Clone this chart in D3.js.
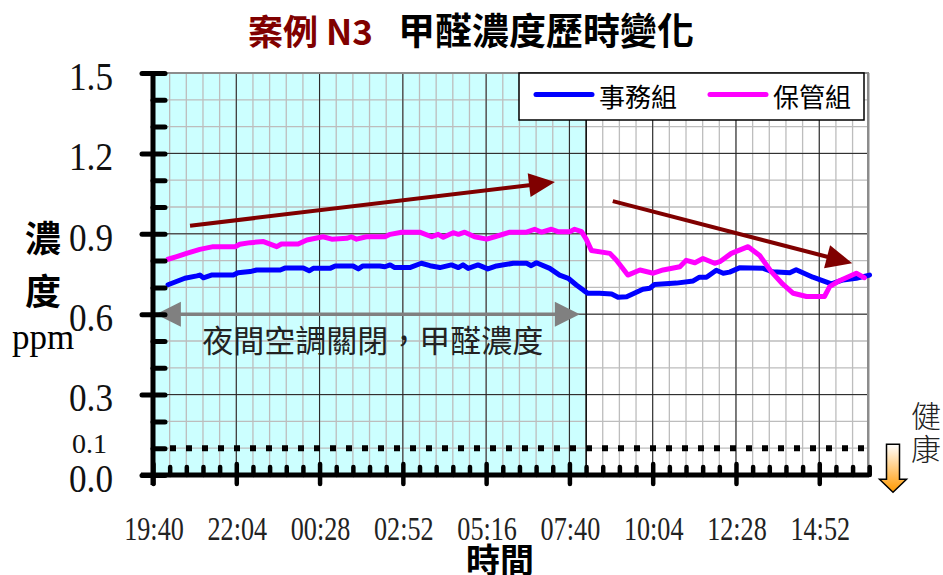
<!DOCTYPE html>
<html>
<head>
<meta charset="utf-8">
<script src="https://cdn.jsdelivr.net/npm/d3@7"></script>
<style>
  html, body { margin: 0; padding: 0; background: #fff; }
  svg { display: block; }
</style>
</head>
<body>
<svg id="chart" width="943" height="575"></svg>
<script>
// ---- Readings: clock time and formaldehyde concentration (ppm) ----
const officeTimes = ["20:06","20:35","20:56","21:01","21:07","21:21","21:59","22:07","22:28","22:39",
  "23:20","23:28","00:00","00:10","00:17","00:46","00:55","01:26","01:35","01:43",
  "02:12","02:21","02:30","02:38","03:04","03:24","03:39","03:56","04:16","04:28",
  "04:36","04:45","05:02","05:19","05:34","06:03","06:26","06:34","06:43","07:06",
  "07:23","07:38","07:52","08:05","08:12","08:32","08:53","09:04","09:19","09:47",
  "09:59","10:07","10:45","11:14","11:25","11:37","11:54","12:06","12:17","12:34",
  "13:15","13:32","14:01","14:12","14:41","15:13","15:33","15:56","16:19"];
const officeValues = [0.710,0.734,0.743,0.746,0.736,0.746,0.746,0.755,0.759,0.765,
  0.765,0.772,0.772,0.762,0.771,0.771,0.780,0.780,0.769,0.780,
  0.780,0.777,0.784,0.774,0.774,0.790,0.781,0.774,0.784,0.774,
  0.784,0.771,0.784,0.769,0.780,0.790,0.790,0.781,0.792,0.771,
  0.746,0.734,0.709,0.688,0.678,0.678,0.675,0.663,0.665,0.693,
  0.697,0.711,0.716,0.724,0.738,0.738,0.764,0.753,0.757,0.773,
  0.771,0.758,0.755,0.766,0.738,0.713,0.728,0.734,0.746];

const storageTimes = ["20:06","20:21","20:38","21:01","21:24","22:02","22:10","22:28","22:51","23:14",
  "23:22","23:51","00:06","00:34","00:49","01:15","01:23","01:32","01:49","02:21",
  "02:30","02:50","03:21","03:42","03:53","04:02","04:19","04:28","04:39","04:56",
  "05:17","05:31","05:57","06:26","06:40","06:52","07:09","07:20","07:41","07:49",
  "08:01","08:09","08:18","08:50","09:01","09:21","09:42","10:05","10:22","10:51",
  "11:02","11:17","11:31","11:51","12:00","12:20","12:49","13:09","13:29","13:49",
  "14:07","14:30","15:01","15:10","15:27","15:56","16:10"];
const storageValues = [0.805,0.815,0.827,0.842,0.852,0.852,0.861,0.867,0.871,0.852,
  0.862,0.862,0.877,0.889,0.880,0.883,0.889,0.880,0.889,0.889,
  0.898,0.906,0.906,0.889,0.898,0.887,0.904,0.898,0.906,0.889,
  0.880,0.889,0.906,0.906,0.917,0.906,0.917,0.908,0.908,0.917,
  0.908,0.880,0.838,0.827,0.802,0.746,0.765,0.753,0.765,0.777,
  0.801,0.792,0.808,0.790,0.796,0.827,0.852,0.819,0.759,0.712,
  0.678,0.666,0.666,0.703,0.725,0.753,0.736];

const seriesNames = ["事務組", "保管組"];
const seriesColors = ["#0000FF", "#FF00FF"];

// ---- Axes ----
const axisStart = "19:40";
const axisEnd = "16:18";
const xTickLabels = ["19:40","22:04","00:28","02:52","05:16","07:40","10:04","12:28","14:52"];
const yTickValues = [0.0, 0.3, 0.6, 0.9, 1.2, 1.5];
const yTickLabels = ["0.0","0.3","0.6","0.9","1.2","1.5"];
const healthLimit = 0.1;
const healthLimitLabel = "0.1";
const nightOffEnd = "08:09";

// Trend annotations [time, ppm] start -> tip
const trendRise = [["20:44", 0.930], ["07:15", 1.093]];
const trendFall = [["08:55", 1.022], ["15:49", 0.790]];
const nightSpan = [["19:45", 0.6], ["07:58", 0.6]];

const titleCase = "案例 N3";
const titleMain = "甲醛濃度歷時變化";

// ---- Setup ----
const svg = d3.select("#chart");
const startMin = (() => { const [h, m] = axisStart.split(":").map(Number); return h * 60 + m; })();
const toMin = t => { const [h, m] = t.split(":").map(Number); return ((h * 60 + m) - startMin + 1440) % 1440; };

const x = d3.scaleLinear().domain([0, toMin(axisEnd)]).range([153, 869]);
const y = d3.scaleLinear().domain([0, 1.5]).range([475, 73]);

const majorStep = 144;            // minutes between labelled ticks
const minorStep = majorStep / 5;  // minutes between minor ticks
const nMinor = Math.round(toMin(axisEnd) / minorStep);
const xMinor = d3.range(0, nMinor + 1).map(i => i * minorStep);
const xMajor = xTickLabels.map((_, i) => i * majorStep);
const yMinor = d3.range(0, 16).map(i => +(i * 0.1).toFixed(1));

const serifFont = "'Liberation Serif','Times New Roman',serif";
const cjkFont = "'Noto Sans CJK TC','Noto Sans CJK SC',sans-serif";

const [x0, x1] = x.range();
const [yb, yt] = y.range();

// night (AC off) shading
svg.append("rect")
  .attr("x", x0).attr("y", yt)
  .attr("width", x(toMin(nightOffEnd)) - x0)
  .attr("height", yb - yt)
  .attr("fill", "#CCFFFF");

// grid
const grid = svg.append("g");
grid.selectAll(".vminor").data(xMinor.filter(d => d > 0)).join("line")
  .attr("x1", d => x(d)).attr("x2", d => x(d))
  .attr("y1", yt).attr("y2", yb)
  .attr("stroke", "#BDBDBD").attr("stroke-width", 1.3);
grid.selectAll(".hminor").data(yMinor.filter(d => d > 0)).join("line")
  .attr("x1", x0).attr("x2", x1)
  .attr("y1", d => y(d)).attr("y2", d => y(d))
  .attr("stroke", "#BDBDBD").attr("stroke-width", 1.3);
grid.selectAll(".vmajor").data(xMajor.filter(d => d > 0)).join("line")
  .attr("x1", d => x(d)).attr("x2", d => x(d))
  .attr("y1", yt).attr("y2", yb)
  .attr("stroke", "#222").attr("stroke-width", 1);
grid.selectAll(".hmajor").data(yTickValues.filter(d => d > 0 && d < 1.5)).join("line")
  .attr("x1", x0).attr("x2", x1)
  .attr("y1", d => y(d)).attr("y2", d => y(d))
  .attr("stroke", "#222").attr("stroke-width", 1);

// night boundary
svg.append("line")
  .attr("x1", x(toMin(nightOffEnd))).attr("x2", x(toMin(nightOffEnd)))
  .attr("y1", yt).attr("y2", yb)
  .attr("stroke", "#111").attr("stroke-width", 1.6);

// plot frame (top / right)
svg.append("path")
  .attr("d", `M${x0},${yt}H${x1 - 1}V${yb}`)
  .attr("fill", "none").attr("stroke", "#8c8c8c").attr("stroke-width", 2);

// health guideline
svg.append("line")
  .attr("x1", x0 + 17).attr("x2", x1)
  .attr("y1", y(healthLimit)).attr("y2", y(healthLimit))
  .attr("stroke", "#000").attr("stroke-width", 6)
  .attr("stroke-dasharray", "6,10");

// series
const line = d3.line().x(d => x(d[0])).y(d => y(d[1]));
const series = [
  d3.zip(officeTimes.map(toMin), officeValues),
  d3.zip(storageTimes.map(toMin), storageValues)
];
svg.selectAll(".series").data(series).join("path")
  .attr("d", line)
  .attr("fill", "none")
  .attr("stroke", (d, i) => seriesColors[i])
  .attr("stroke-width", 5)
  .attr("stroke-linejoin", "round")
  .attr("stroke-linecap", "round");

// arrows
function arrowHead(g, px, py, ux, uy, len, hw, color) {
  const bx = px - ux * len, by = py - uy * len;
  g.append("polygon")
    .attr("points", [[px, py], [bx - uy * hw, by + ux * hw], [bx + uy * hw, by - ux * hw]].map(p => p.join(",")).join(" "))
    .attr("fill", color);
}
function arrow(g, pts, color, width, len, hw, both) {
  const ax = x(toMin(pts[0][0])), ay = y(pts[0][1]);
  const bx = x(toMin(pts[1][0])), by = y(pts[1][1]);
  const dl = Math.hypot(bx - ax, by - ay), ux = (bx - ax) / dl, uy = (by - ay) / dl;
  const sx = both ? ax + ux * (len - 2) : ax, sy = both ? ay + uy * (len - 2) : ay;
  g.append("line")
    .attr("x1", sx).attr("y1", sy)
    .attr("x2", bx - ux * (len - 2)).attr("y2", by - uy * (len - 2))
    .attr("stroke", color).attr("stroke-width", width);
  arrowHead(g, bx, by, ux, uy, len, hw, color);
  if (both) arrowHead(g, ax, ay, -ux, -uy, len, hw, color);
}
const ann = svg.append("g");
arrow(ann, trendRise, "#800000", 4, 26, 12, false);
arrow(ann, trendFall, "#800000", 4, 26, 12, false);
arrow(ann, nightSpan, "#808080", 3.5, 25, 12.5, true);

ann.append("text")
  .attr("x", (x(toMin(nightSpan[0][0])) + x(toMin(nightSpan[1][0]))) / 2 + 5)
  .attr("y", y(0.6) + 24)
  .attr("text-anchor", "middle")
  .attr("dominant-baseline", "central")
  .attr("font-family", cjkFont)
  .attr("font-size", 31)
  .attr("fill", "#222")
  .text("夜間空調關閉，甲醛濃度");

// legend
const lg = svg.append("g");
lg.append("rect")
  .attr("x", 519).attr("y", yt).attr("width", 345).attr("height", 47)
  .attr("fill", "#fff").attr("stroke", "#000").attr("stroke-width", 1.5);
const legendX = [536, 710];
seriesNames.forEach((name, i) => {
  lg.append("line")
    .attr("x1", legendX[i]).attr("x2", legendX[i] + 56)
    .attr("y1", 94.5).attr("y2", 94.5)
    .attr("stroke", seriesColors[i]).attr("stroke-width", 5)
    .attr("stroke-linecap", "round");
  lg.append("text")
    .attr("x", legendX[i] + 63).attr("y", 95)
    .attr("dominant-baseline", "central")
    .attr("font-family", cjkFont).attr("font-size", 26)
    .attr("fill", "#000")
    .text(name);
});

// y axis
const yAxisG = svg.append("g").attr("transform", `translate(${x0},0)`);
yAxisG.call(d3.axisLeft(y).tickValues(yMinor).tickSize(0).tickFormat(""));
yAxisG.select(".domain").remove();
yAxisG.selectAll(".tick line")
  .attr("x1", 0).attr("x2", 12)
  .attr("stroke", "#000").attr("stroke-width", 5).attr("stroke-linecap", "round");
yAxisG.selectAll(".tick").filter(d => yTickValues.some(v => Math.abs(v - d) < 1e-9)).select("line")
  .attr("x1", -11).attr("x2", 12);
yAxisG.append("line")
  .attr("x1", 0).attr("x2", 0).attr("y1", yt).attr("y2", yb + 10)
  .attr("stroke", "#000").attr("stroke-width", 5);

// x axis
const xAxisG = svg.append("g").attr("transform", `translate(0,${yb})`);
xAxisG.call(d3.axisBottom(x).tickValues(xMinor).tickSize(0).tickFormat(""));
xAxisG.select(".domain").remove();
xAxisG.selectAll(".tick line")
  .attr("y1", 0).attr("y2", -8)
  .attr("stroke", "#000").attr("stroke-width", 4.5).attr("stroke-linecap", "round");
xAxisG.selectAll(".tick").filter(d => xMajor.some(v => Math.abs(v - d) < 1e-6)).select("line")
  .attr("y1", -11).attr("y2", 9);
xAxisG.append("line")
  .attr("x1", x0 - 12).attr("x2", x1).attr("y1", 0).attr("y2", 0)
  .attr("stroke", "#000").attr("stroke-width", 5);

// tick labels
svg.selectAll(".xlab").data(xMajor).join("text")
  .attr("transform", d => `translate(${x(d) + 1},540) scale(0.77,1)`)
  .attr("text-anchor", "middle")
  .attr("font-family", serifFont).attr("font-size", 34)
  .attr("fill", "#222")
  .text((d, i) => xTickLabels[i]);

svg.selectAll(".ylab").data(yTickValues).join("text")
  .attr("transform", d => `translate(113,${y(d) + 3}) scale(0.88,1)`)
  .attr("text-anchor", "end")
  .attr("dominant-baseline", "central")
  .attr("font-family", serifFont).attr("font-size", 40)
  .attr("fill", "#111")
  .text((d, i) => yTickLabels[i]);

svg.append("text")
  .attr("transform", `translate(107,${y(healthLimit) - 5})`)
  .attr("text-anchor", "end")
  .attr("dominant-baseline", "central")
  .attr("font-family", serifFont).attr("font-size", 28)
  .attr("fill", "#111")
  .text(healthLimitLabel);

// axis titles
svg.append("text")
  .attr("x", 500).attr("y", 573)
  .attr("text-anchor", "middle")
  .attr("font-family", cjkFont).attr("font-size", 34).attr("font-weight", "bold")
  .attr("fill", "#000")
  .text("時間");

svg.append("text")
  .attr("x", 43).attr("y", 220)
  .attr("writing-mode", "tb")
  .attr("letter-spacing", 17)
  .attr("font-family", cjkFont).attr("font-size", 36).attr("font-weight", "bold")
  .attr("fill", "#000")
  .text("濃度");
svg.append("text")
  .attr("x", 12).attr("y", 349)
  .attr("font-family", serifFont).attr("font-size", 35)
  .attr("fill", "#000")
  .text("ppm");

// "healthy" marker at right
svg.append("text")
  .attr("x", 926).attr("y", 401)
  .attr("writing-mode", "tb")
  .attr("letter-spacing", 3)
  .attr("font-family", cjkFont).attr("font-size", 30).attr("font-weight", 300)
  .attr("fill", "#222")
  .text("健康");
const defs = svg.append("defs");
const grad = defs.append("linearGradient").attr("id", "downGrad")
  .attr("x1", 0).attr("y1", 0).attr("x2", 0).attr("y2", 1);
grad.append("stop").attr("offset", "0%").attr("stop-color", "#FFFFFF");
grad.append("stop").attr("offset", "100%").attr("stop-color", "#FF9900");
const ay0 = y(healthLimit) - 4, ax0 = x1 + 24;
svg.append("polygon")
  .attr("points", [
    [ax0 - 6.5, ay0], [ax0 + 6.5, ay0], [ax0 + 6.5, ay0 + 35], [ax0 + 13.5, ay0 + 35],
    [ax0, ay0 + 48], [ax0 - 13.5, ay0 + 35], [ax0 - 6.5, ay0 + 35]
  ].map(p => p.join(",")).join(" "))
  .attr("fill", "url(#downGrad)")
  .attr("stroke", "#000").attr("stroke-width", 1.5)
  .attr("stroke-linejoin", "miter");

// title
svg.append("text")
  .attr("x", 248).attr("y", 45)
  .attr("font-family", cjkFont).attr("font-size", 35).attr("font-weight", "bold")
  .attr("fill", "#800000")
  .text(titleCase);
svg.append("text")
  .attr("x", 398).attr("y", 45)
  .attr("font-family", cjkFont).attr("font-size", 37).attr("font-weight", "bold")
  .attr("fill", "#000")
  .text(titleMain);
</script>
</body>
</html>
